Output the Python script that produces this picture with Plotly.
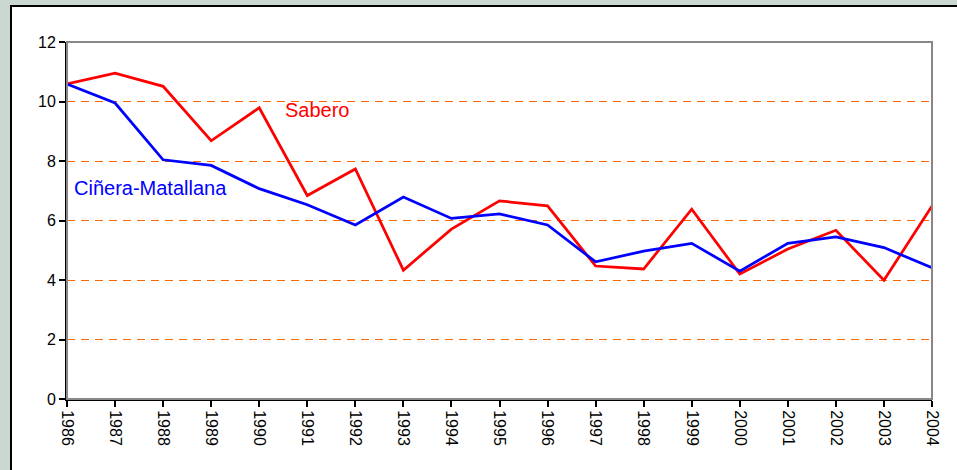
import plotly.graph_objects as go

years = list(range(1986, 2005))
sabero = [10.59, 10.95, 10.51, 8.68, 9.79, 6.84, 7.73, 4.33, 5.71, 6.66, 6.49,
          4.47, 4.37, 6.38, 4.20, 5.04, 5.67, 3.99, 6.49]
cinera = [10.59, 9.95, 8.04, 7.85, 7.07, 6.53, 5.85, 6.79, 6.07, 6.22, 5.85,
          4.61, 4.97, 5.23, 4.30, 5.23, 5.45, 5.09, 4.41]
y_ticks = [0, 2, 4, 6, 8, 10, 12]
x_labels = [str(y) for y in years]

FONT = "Liberation Sans, Arial, sans-serif"

fig = go.Figure()
fig.add_trace(go.Scatter(x=years, y=sabero, mode="lines", name="Sabero",
                         line=dict(color="#FF0000", width=2.75)))
fig.add_trace(go.Scatter(x=years, y=cinera, mode="lines", name="Ciñera-Matallana",
                         line=dict(color="#0000FF", width=2.75)))

W, H = 957, 470
L, R, T, B = 67, 25, 42, 71
pw, ph = W - L - R, H - T - B

def px_to_paper_x(px):
    return (px - L) / pw

def px_to_paper_y(py):
    return (H - B - py) / ph

fig.update_layout(
    width=W, height=H,
    margin=dict(l=L, r=R, t=T, b=B),
    paper_bgcolor="#CBD8D1",
    plot_bgcolor="white",
    showlegend=False,
    font=dict(family=FONT, size=16, color="black"),
    shapes=[
        dict(type="rect", xref="paper", yref="paper", layer="below",
             x0=px_to_paper_x(11), x1=px_to_paper_x(970),
             y0=px_to_paper_y(480), y1=px_to_paper_y(6),
             fillcolor="white", line=dict(color="black", width=2)),
        dict(type="rect", xref="paper", yref="paper", layer="above",
             x0=0, x1=1, y0=0, y1=1,
             line=dict(color="#888888", width=2)),
    ],
    annotations=[
        dict(text="Sabero", xref="paper", yref="y", x=px_to_paper_x(283), y=9.71,
             xanchor="left", yanchor="middle", showarrow=False,
             font=dict(family=FONT, size=20, color="#FF0000")),
        dict(text="Ciñera-Matallana", xref="paper", yref="y", x=px_to_paper_x(72), y=7.1,
             xanchor="left", yanchor="middle", showarrow=False,
             font=dict(family=FONT, size=20, color="#0000FF")),
    ],
)

fig.update_xaxes(
    range=[1986, 2004], tickvals=years, ticktext=x_labels, tickangle=90,
    showgrid=False, zeroline=False,
    showline=True, linecolor="black", linewidth=2,
    ticks="outside", ticklen=6, tickwidth=1.5, tickcolor="black",
    tickfont=dict(family=FONT, size=16, color="black"),
)
fig.update_yaxes(
    range=[0, 12], tickvals=y_ticks,
    showgrid=True, gridcolor="#FF6600", gridwidth=1, griddash="8px,6px",
    zeroline=False,
    showline=True, linecolor="black", linewidth=2,
    ticks="outside", ticklen=6, tickwidth=1.5, tickcolor="black",
    tickfont=dict(family=FONT, size=16, color="black"),
)

fig.write_html(
    "out.html",
    config={"displayModeBar": False},
    post_script="document.body.style.margin='0';document.body.style.overflow='hidden';",
)
